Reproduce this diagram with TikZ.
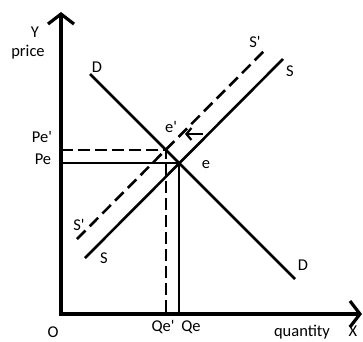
\documentclass[tikz,border=0pt]{standalone}
\usepackage{fontspec}
\setmainfont{Carlito}
\usetikzlibrary{arrows.meta}

\begin{document}
\begin{tikzpicture}[x=1pt,y=-1pt,
  axis/.style={line width=4pt,line join=miter,
               {Straight Barb[length=10pt,width=26pt,line width=3.2pt]}-{Straight Barb[length=10pt,width=26pt,line width=3.2pt]}},
  curve/.style={line width=2.6pt},
  shifted/.style={line width=2.6pt,dash pattern=on 12pt off 6pt},
  guide/.style={line width=2.2pt},
  guided/.style={line width=2.2pt,dash pattern=on 12pt off 5pt},
  lbl/.style={font=\fontsize{16.5}{18}\selectfont,inner sep=0pt},
  arr/.style={line width=2.2pt,-{Straight Barb[length=5pt,width=12pt,line width=2.2pt]}}
]
\useasboundingbox (0,0) rectangle (363,341);

% axes
\coordinate (o)    at (61,314);
\coordinate (ytop) at (61,12);
\coordinate (xend) at (362,314);
\draw[axis] (ytop) -- (o) -- (xend);

% demand and supply
\coordinate (d1) at (90,74);
\coordinate (d2) at (295,279);
\coordinate (s1) at (85,258);
\coordinate (s2) at (283,59);
\coordinate (t1) at (77,239);
\coordinate (t2) at (266,49);
\draw[curve] (d1) -- (d2);
\draw[curve] (s1) -- (s2);
\draw[shifted] (t1) -- (t2);

% equilibria
\coordinate (e)   at (179,163);
\coordinate (pe)  at (61,163);
\coordinate (qe)  at (179,314);
\coordinate (e2)  at (166,150);
\coordinate (pe2) at (61,150);
\coordinate (qe2) at (166,314);
\draw[guide] (pe) -- (e) -- (qe);
\draw[guided] (pe2) -- (e2) -- (qe2);

% shift arrow
\coordinate (sh1) at (203,134);
\coordinate (sh2) at (185,134);
\draw[arr] (sh1) -- (sh2);

% labels
\node[lbl] (ly)     at (35,32)  {Y};
\node[lbl] (lprice) at (28,52)  {price};
\node[lbl] (ld1)    at (97,67)  {D};
\node[lbl] (ld2)    at (303,265){D};
\node[lbl] (lpe2)   at (42,137) {Pe\textquotesingle};
\node[lbl] (lpe)    at (43,159) {Pe};
\node[lbl] (le2)    at (171,127){e\textquotesingle};
\node[lbl] (le)     at (206,165){e};
\node[lbl] (lt2)    at (255,42) {S\textquotesingle};
\node[lbl] (ls2)    at (290,71) {S};
\node[lbl] (lt1)    at (79,225) {S\textquotesingle};
\node[lbl] (ls1)    at (104,258){S};
\node[lbl] (lo)     at (53,332) {O};
\node[lbl] (lqe2)   at (163,327){Qe\textquotesingle};
\node[lbl] (lqe)    at (191,327){Qe};
\node[lbl] (lq)     at (302,332){quantity};
\node[lbl] (lx)     at (353,331){X};
\end{tikzpicture}
\end{document}
